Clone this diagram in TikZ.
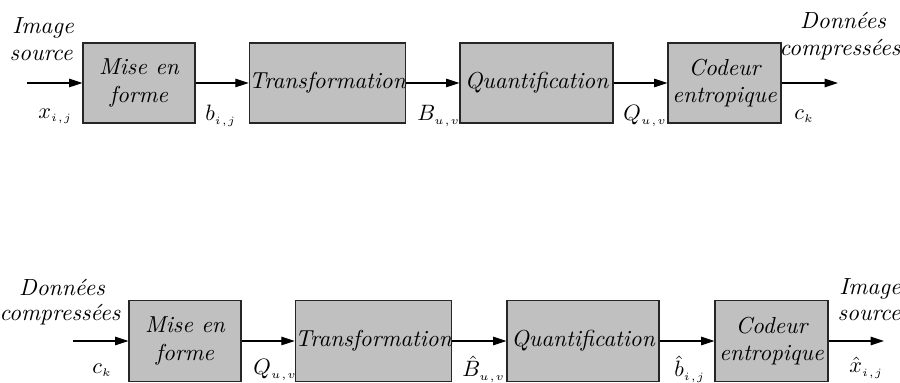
\documentclass[tikz,border=0pt]{standalone}
\usetikzlibrary{arrows.meta}
\definecolor{boxgray}{HTML}{C0C0C0}
\newcommand{\sbs}[1]{{\scriptscriptstyle #1}}
\newcommand{\cm}{\mkern1mu,\mkern1mu}
\begin{document}
\begin{tikzpicture}[x=0.45pt,y=-0.45pt,
  blk/.style={draw=black!85,fill=boxgray,line width=0.5pt,inner sep=0pt,minimum height={80*0.45pt},font=\fontsize{10.4}{12.5}\selectfont\itshape,align=center},
  flow/.style={line width=0.5pt,-{Triangle[length=6pt,width=3.8pt]}},
  lbl/.style={inner sep=0pt,font=\fontsize{10.5}{12}\selectfont\itshape,align=center},
  sym/.style={inner sep=0pt,anchor=west,font=\fontsize{9.6}{12}\selectfont}]
\useasboundingbox (0,0) rectangle (900,383);
% top row
\node[blk,minimum width={112*0.45pt}] (a1) at (139,83) {Mise en\\forme};
\node[blk,minimum width={153*0.45pt}] (a2) at (327.5,83) {Transformation};
\node[blk,minimum width={153*0.45pt}] (a3) at (536.5,83) {Quantification};
\node[blk,minimum width={113*0.45pt}] (a4) at (724.5,83) {Codeur\\entropique};
\coordinate (ain) at (27,83);
\coordinate (aout) at (838,83);
\draw[flow] (ain) -- (a1);
\draw[flow] (a1) -- (a2);
\draw[flow] (a2) -- (a3);
\draw[flow] (a3) -- (a4);
\draw[flow] (a4) -- (aout);
\node[lbl] (tin1) at (43,28) {Image};
\node[lbl] (tin2) at (41,55) {source};
\node[lbl] (tout1) at (843,21) {Données};
\node[lbl] (tout2) at (840,50) {compressées};
\node[sym] (s1) at (38,116) {$x_{\sbs{i\cm j}}$};
\node[sym] (s2) at (205,116) {$b_{\sbs{i\cm j}}$};
\node[sym] (s3) at (417,116) {$B_{\sbs{u\cm v}}$};
\node[sym] (s4) at (623,116) {$Q_{\sbs{u\cm v}}$};
\node[sym] (s5) at (794,116) {$c_{\sbs{k}}$};
% bottom row
\node[blk,minimum width={112*0.45pt},minimum height={81*0.45pt}] (b1) at (185,341) {Mise en\\forme};
\node[blk,minimum width={153*0.45pt},minimum height={81*0.45pt}] (b2) at (373.5,341) {Transformation};
\node[blk,minimum width={152*0.45pt},minimum height={81*0.45pt}] (b3) at (583,341) {Quantification};
\node[blk,minimum width={113*0.45pt},minimum height={81*0.45pt}] (b4) at (771.5,341) {Codeur\\entropique};
\coordinate (bin) at (73,341);
\coordinate (bout) at (884,341);
\draw[flow] (bin) -- (b1);
\draw[flow] (b1) -- (b2);
\draw[flow] (b2) -- (b3);
\draw[flow] (b3) -- (b4);
\draw[flow] (b4) -- (bout);
\node[lbl] (uin1) at (62,288) {Données};
\node[lbl] (uin2) at (60,315) {compressées};
\node[lbl] (uout1) at (870,289) {Image};
\node[lbl] (uout2) at (869,315) {source};
\node[sym] (r1) at (92,370) {$c_{\sbs{k}}$};
\node[sym] (r2) at (253,370) {$Q_{\sbs{u\cm v}}$};
\node[sym] (r3) at (462,369) {$\hat{B}_{\sbs{u\cm v}}$};
\node[sym] (r4) at (674,369) {$\hat{b}_{\sbs{i\cm j}}$};
\node[sym] (r5) at (849,368) {$\hat{x}_{\sbs{i\cm j}}$};
\end{tikzpicture}
\end{document}
